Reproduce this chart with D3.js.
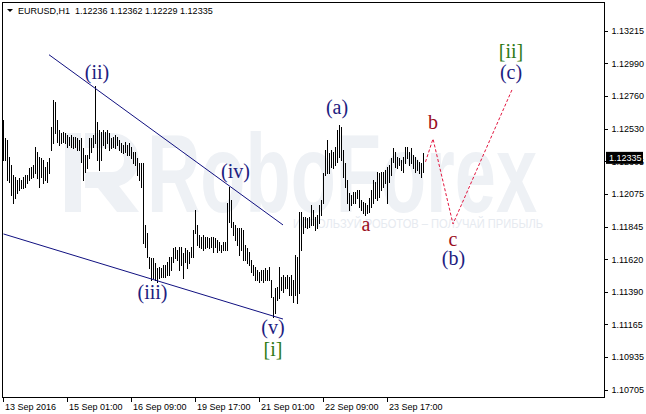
<!DOCTYPE html>
<html><head><meta charset="utf-8">
<script src="https://cdn.jsdelivr.net/npm/d3@7"></script>
<style>body{margin:0;background:#fff}svg{display:block}</style>
</head><body>
<svg id="c" width="646" height="414"></svg>
<script>
// EURUSD H1 bars, 13 Sep 2016 17:00 onward (one bar per hour)
const highs=[
1.12594,1.12468,1.12454,1.12335,1.12279,1.12209,1.12195,1.12174,1.12188,1.12174,
1.12195,1.12209,1.12209,1.12258,1.12265,1.12279,1.12405,1.12370,1.12335,1.12328,
1.12314,1.12265,1.12300,1.12328,1.12545,1.12734,1.12720,1.12594,1.12524,1.12503,
1.12510,1.12503,1.12489,1.12475,1.12489,1.12475,1.12475,1.12468,1.12454,1.12468,
1.12398,1.12349,1.12349,1.12468,1.12468,1.12489,1.12832,1.12580,1.12524,1.12510,
1.12524,1.12510,1.12524,1.12503,1.12468,1.12475,1.12489,1.12475,1.12454,1.12433,
1.12419,1.12440,1.12419,1.12433,1.12405,1.12370,1.12370,1.12328,1.12293,1.12293,
1.12293,1.11859,1.11803,1.11635,1.11628,1.11628,1.11593,1.11558,1.11565,1.11558,
1.11579,1.11579,1.11600,1.11635,1.11635,1.11698,1.11705,1.11684,1.11705,1.11705,
1.11663,1.11698,1.11684,1.11670,1.11705,1.11824,1.11964,1.11859,1.11789,1.11775,
1.11789,1.11775,1.11775,1.11768,1.11775,1.11775,1.11768,1.11754,1.11740,1.11719,
1.11740,1.11740,1.12013,1.12125,1.12034,1.11880,1.11859,1.11838,1.11838,1.11838,
1.11824,1.11719,1.11698,1.11670,1.11614,1.11579,1.11565,1.11544,1.11530,1.11544,
1.11544,1.11558,1.11544,1.11565,1.11474,1.11355,1.11418,1.11425,1.11565,1.11495,
1.11509,1.11495,1.11509,1.11495,1.11509,1.11474,1.11649,1.11635,1.11950,1.11950,
1.11915,1.11915,1.11908,1.11915,1.11999,1.11964,1.11915,1.11929,1.11999,1.12034,
1.12223,1.12384,1.12454,1.12363,1.12384,1.12370,1.12405,1.12524,1.12559,1.12545,
1.12384,1.12293,1.12174,1.12083,1.12069,1.12090,1.12090,1.12104,1.12104,1.12034,
1.12020,1.12013,1.11999,1.12048,1.12104,1.12174,1.12160,1.12230,1.12223,1.12230,
1.12230,1.12244,1.12265,1.12279,1.12328,1.12398,1.12370,1.12335,1.12328,1.12314,
1.12335,1.12405,1.12405,1.12370,1.12398,1.12349,1.12335,1.12314,1.12300,1.12293,1.12362];
const lows=[
1.12314,1.12314,1.12174,1.12160,1.12069,1.12013,1.12048,1.12083,1.12104,1.12118,
1.12118,1.12125,1.12153,1.12174,1.12188,1.12195,1.12223,1.12188,1.12125,1.12195,
1.12153,1.12174,1.12160,1.12223,1.12384,1.12433,1.12503,1.12440,1.12419,1.12433,
1.12440,1.12433,1.12405,1.12419,1.12405,1.12398,1.12405,1.12384,1.12384,1.12300,
1.12174,1.12230,1.12258,1.12328,1.12370,1.12405,1.12433,1.12314,1.12244,1.12314,
1.12419,1.12398,1.12433,1.12384,1.12398,1.12405,1.12398,1.12419,1.12384,1.12370,
1.12363,1.12370,1.12349,1.12349,1.12328,1.12293,1.12279,1.12209,1.12174,1.12125,
1.11733,1.11705,1.11635,1.11558,1.11474,1.11488,1.11474,1.11460,1.11488,1.11495,
1.11495,1.11495,1.11509,1.11509,1.11544,1.11600,1.11628,1.11614,1.11544,1.11579,
1.11488,1.11600,1.11558,1.11593,1.11635,1.11635,1.11803,1.11719,1.11705,1.11698,
1.11684,1.11698,1.11705,1.11698,1.11705,1.11670,1.11705,1.11670,1.11684,1.11670,
1.11684,1.11684,1.11684,1.11880,1.11845,1.11789,1.11754,1.11719,1.11649,1.11684,
1.11614,1.11614,1.11593,1.11579,1.11530,1.11509,1.11474,1.11474,1.11460,1.11474,
1.11460,1.11474,1.11474,1.11474,1.11355,1.11215,1.11243,1.11334,1.11348,1.11404,
1.11390,1.11418,1.11418,1.11369,1.11369,1.11320,1.11369,1.11313,1.11383,1.11684,
1.11803,1.11845,1.11838,1.11845,1.11859,1.11859,1.11824,1.11838,1.11873,1.11929,
1.12013,1.12209,1.12223,1.12223,1.12265,1.12258,1.12279,1.12300,1.12335,1.12314,
1.12195,1.12125,1.12013,1.11964,1.11999,1.12013,1.12013,1.12048,1.11985,1.11964,
1.11943,1.11929,1.11943,1.11950,1.11985,1.12013,1.12048,1.12034,1.12055,1.12104,
1.12125,1.12153,1.12013,1.12160,1.12209,1.12300,1.12265,1.12258,1.12279,1.12244,
1.12230,1.12293,1.12328,1.12279,1.12293,1.12258,1.12230,1.12244,1.12223,1.12195,1.12229];

const yTicks=[1.13215,1.12990,1.12760,1.12530,1.12305,1.12075,1.11845,1.11620,1.11390,1.11165,1.10935,1.10705];
const xTickIdx=[0,32,64,96,128,160,192];
const xTickLabels=["13 Sep 2016","15 Sep 01:00","16 Sep 09:00","19 Sep 17:00","21 Sep 01:00","22 Sep 09:00","23 Sep 17:00"];
const symbol="EURUSD,H1";
const lastOHLC=[1.12236,1.12362,1.12229,1.12335];
const lastPrice=1.12335;

// trend channel (bar index, price)
const upperLine=[[22.75,1.13049],[139.75,1.11859]];
const lowerLine=[[0,1.11796],[139.75,1.11201]];
// forecast path
const forecast=[[211,1.12300],[214.75,1.12461],[224.75,1.11866],[254.25,1.12804]];
// wave labels: text, bar index, price(baseline), group
const waveText=["(ii)","(iii)","(iv)","(v)","[i]","(a)","a","b","c","(b)","(c)","[ii]"];
const waveIdx=[46.75,74.5,116,134.75,134.75,166.75,181.25,214.75,224.75,225,253.75,253.75];
const wavePrice=[1.12881,1.11341,1.12188,1.11096,1.10942,1.12636,1.11817,1.12531,1.11712,1.11579,1.12881,1.13028];
const waveGroup=["minor","minor","minor","minor","major","minor","minute","minute","minute","minor","minor","major"];

const colors={minor:"#1d2080",major:"#2f7a17",minute:"#9a0e22"};

const svg=d3.select("#c");
const x=d3.scaleLinear().domain([0,210]).range([3.5,423.5]);
const y=d3.scaleLinear().domain([1.10705,1.13215]).range([390,31]);

// watermark
const wm=svg.append("g").attr("fill","#eef1f5");
wm.append("rect").attr("x",65).attr("y",133).attr("width",16).attr("height",79);
wm.append("path").attr("d","M85,133 H113 A27,27 0 0 1 119,186 L139,212 H117 L98,188 H85 V172 H112 A12,12 0 0 0 112,148 H85 Z");
wm.append("text").attr("x",147).attr("y",212).attr("font-family","Liberation Sans, Arial, sans-serif").attr("font-weight","bold")
  .attr("font-size",112).attr("textLength",390).attr("lengthAdjust","spacingAndGlyphs").text("RoboForex");
wm.append("text").attr("x",293).attr("y",228).attr("fill","#e6eaf0").attr("font-family","Liberation Sans, Arial, sans-serif")
  .attr("font-size",13).attr("textLength",250).attr("lengthAdjust","spacingAndGlyphs").text("ИСПОЛЬЗУЙ РОБОТОВ – ПОЛУЧАЙ ПРИБЫЛЬ");

// bars
svg.append("g").attr("shape-rendering","crispEdges").selectAll("line").data(highs).join("line")
  .attr("x1",(d,i)=>x(i)).attr("x2",(d,i)=>x(i))
  .attr("y1",d=>y(d)).attr("y2",(d,i)=>y(lows[i])+1)
  .attr("stroke","#000").attr("stroke-width",1);

// trend lines
const ln=d3.line().x(d=>x(d[0])).y(d=>y(d[1]));
[upperLine,lowerLine].forEach(l=>svg.append("path").attr("d",ln(l)).attr("fill","none").attr("stroke","#101080").attr("stroke-width",1));
svg.append("path").attr("d",ln(forecast)).attr("fill","none").attr("stroke","#e3163f").attr("stroke-width",1).attr("stroke-dasharray","3,2");

// wave labels
svg.append("g").selectAll("text").data(waveText).join("text")
  .attr("x",(d,i)=>x(waveIdx[i])).attr("y",(d,i)=>y(wavePrice[i]))
  .attr("text-anchor","middle").attr("font-family","Liberation Serif, Times New Roman, serif").attr("font-size",20)
  .attr("fill",(d,i)=>colors[waveGroup[i]]).text(d=>d);

// frame
svg.append("rect").attr("x",2.5).attr("y",2.5).attr("width",602).attr("height",395).attr("fill","none").attr("stroke","#000").attr("shape-rendering","crispEdges");

const font="Liberation Sans, Arial, sans-serif";
// y axis
const ya=svg.append("g").attr("transform","translate(604.5,0)")
  .call(d3.axisRight(y).tickValues(yTicks).tickFormat(d3.format(".5f")).tickSize(3).tickPadding(4));
ya.select(".domain").remove();
ya.selectAll("text").attr("font-family",font).attr("font-size",9).attr("fill","#000");
ya.selectAll("line").attr("shape-rendering","crispEdges");

// x axis
const xa=svg.append("g").attr("transform","translate(0,397.5)")
  .call(d3.axisBottom(x).tickValues(xTickIdx).tickFormat((d,i)=>xTickLabels[i]).tickSize(4).tickPadding(2));
xa.select(".domain").remove();
xa.selectAll("line").attr("transform","translate(-0.5,0)").attr("shape-rendering","crispEdges");
xa.selectAll("text").attr("text-anchor","start").attr("dx",1).attr("font-family",font).attr("font-size",9).attr("fill","#000");

// current price tag
const py=y(lastPrice);
svg.append("rect").attr("x",606).attr("y",py-5).attr("width",37).attr("height",12).attr("fill","#000");
svg.append("text").attr("x",609).attr("y",py+4.5).attr("font-family",font).attr("font-size",9).attr("fill","#fff").text(d3.format(".5f")(lastPrice));

// title
svg.append("path").attr("d","M7,9 H13 L10,12 Z").attr("fill","#000");
svg.append("text").attr("x",18).attr("y",14).attr("font-family",font).attr("font-size",9).attr("fill","#000")
  .style("white-space","pre").text(symbol+"  "+lastOHLC.map(d3.format(".5f")).join(" "));
</script>
</body></html>
